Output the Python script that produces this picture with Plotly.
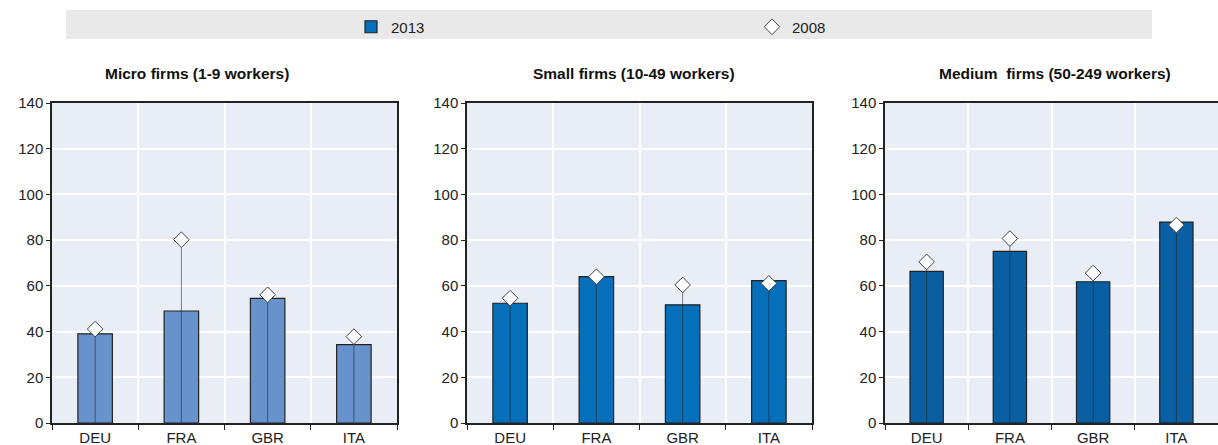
import plotly.graph_objects as go

countries = ["DEU", "FRA", "GBR", "ITA"]
panel_titles = ["Micro firms (1-9 workers)", "Small firms (10-49 workers)", "Medium  firms (50-249 workers)"]

micro_2013 = [39, 49, 54.5, 34.3]
micro_2008 = [41.1, 80.2, 56.1, 37.8]
small_2013 = [52.4, 64.0, 51.7, 62.3]
small_2008 = [54.6, 64.0, 60.4, 61.1]
medium_2013 = [66.3, 75.1, 61.8, 87.9]
medium_2008 = [70.5, 80.7, 65.6, 86.6]

bar_colors = ["#6792cc", "#0570b9", "#0a5fa3"]
values_2013 = [micro_2013, small_2013, medium_2013]
values_2008 = [micro_2008, small_2008, medium_2008]

W, H = 1218, 445
ML, MR, MT, MB = 52, 0, 103, 22
PW = W - ML - MR
PH = H - MT - MB

def px_x(px):
    return (px - ML) / PW

def px_y(py):
    return 1 + (MT - py) / PH

domains = [(52, 397), (467, 812), (885, 1218)]
title_centers = [197, 634, 1055]

fig = go.Figure()
font_family = "Liberation Sans, Arial, sans-serif"

for i in range(3):
    xa = "x" if i == 0 else f"x{i+1}"
    ya = "y" if i == 0 else f"y{i+1}"
    fig.add_trace(go.Bar(
        x=countries, y=values_2013[i], xaxis=xa, yaxis=ya,
        marker=dict(color=bar_colors[i], line=dict(color="#222222", width=1.2)),
        width=0.4, name="2013", showlegend=(i == 1),
        legendrank=1,
    ))
    fig.add_trace(go.Scatter(
        x=countries, y=values_2008[i], xaxis=xa, yaxis=ya,
        mode="markers",
        marker=dict(symbol="diamond", size=12, color="white",
                    line=dict(color="#444444", width=1)),
        error_y=dict(type="data", symmetric=False, array=[0] * 4,
                     arrayminus=values_2008[i], thickness=1, width=0,
                     color="rgba(30,30,30,0.55)"),
        name="2008", showlegend=(i == 0), legendrank=2,
    ))
    d0, d1 = domains[i]
    xkey = "xaxis" if i == 0 else f"xaxis{i+1}"
    ykey = "yaxis" if i == 0 else f"yaxis{i+1}"
    fig.update_layout(**{
        xkey: dict(domain=[px_x(d0), px_x(d1)], anchor=ya,
                   showline=True, linecolor="#222222", linewidth=1.5, mirror=True,
                   ticks="outside", tickson="boundaries", ticklen=5, tickcolor="#222222",
                   showgrid=True, gridcolor="white", gridwidth=1.5,
                   tickfont=dict(size=15, color="#222222"), fixedrange=True),
        ykey: dict(domain=[0, 1], anchor=xa, range=[0, 140], dtick=20,
                   showline=True, linecolor="#222222", linewidth=1.5, mirror=True,
                   ticks="outside", ticklen=4, tickcolor="#222222",
                   showgrid=True, gridcolor="white", gridwidth=1.5,
                   zeroline=False,
                   tickfont=dict(size=15, color="#222222")),
    })
    fig.add_annotation(text=f"<b>{panel_titles[i]}</b>", xref="paper", yref="paper",
                       x=px_x(title_centers[i]), y=px_y(73), xanchor="center", yanchor="middle",
                       showarrow=False, font=dict(size=15.5, color="#111111"))

fig.add_shape(type="rect", xref="paper", yref="paper",
              x0=px_x(66), x1=px_x(1152), y0=px_y(39), y1=px_y(10),
              fillcolor="#e9e9e9", line=dict(width=0), layer="below")

fig.update_layout(
    width=W, height=H,
    margin=dict(l=ML, r=MR, t=MT, b=MB, autoexpand=False),
    paper_bgcolor="white", plot_bgcolor="#e8edf6",
    font=dict(family=font_family, color="#222222"),
    barmode="overlay",
    legend=dict(orientation="h", xref="container", yref="container",
                x=351 / W, y=1 - 27 / H, xanchor="left", yanchor="middle",
                entrywidth=356, entrywidthmode="pixels", bgcolor="rgba(0,0,0,0)",
                font=dict(size=15, color="#222222"), traceorder="normal"),
)

fig.write_html("out.html", config={"displayModeBar": False},
               post_script="document.body.style.margin='0px';document.body.style.overflow='hidden';")
